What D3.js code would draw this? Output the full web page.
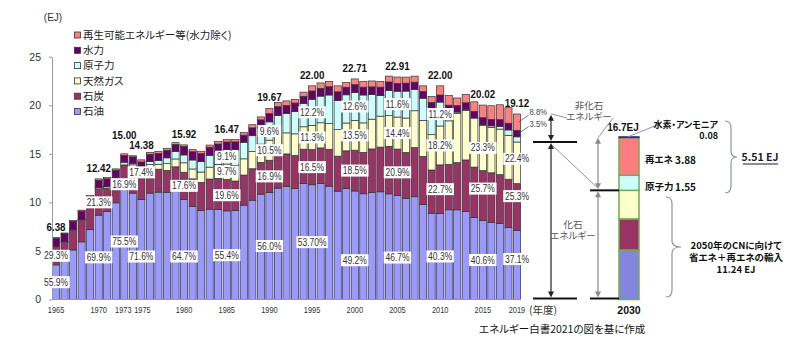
<!DOCTYPE html>
<html><head><meta charset="utf-8">
<script src="https://cdn.jsdelivr.net/npm/d3@7"></script>
<style>
body{margin:0;background:#fff;}
svg{display:block;}
.jp{font-feature-settings:"palt";}
</style>
</head><body>
<svg id="chart" width="802" height="356"></svg>
<script>
// ---------------- DATA ----------------
const years = [1965,1966,1967,1968,1969,1970,1971,1972,1973,1974,
  1975,1976,1977,1978,1979,1980,1981,1982,1983,1984,
  1985,1986,1987,1988,1989,1990,1991,1992,1993,1994,
  1995,1996,1997,1998,1999,2000,2001,2002,2003,2004,
  2005,2006,2007,2008,2009,2010,2011,2012,2013,2014,
  2015,2016,2017,2018,2019];
// total primary energy supply (EJ)
const totals = [6.38,6.85,8.15,9.2,10.7,12.42,12.55,13.45,15.00,14.8,
  14.38,15.15,15.25,15.55,16.15,15.92,15.43,15.26,15.9,16.29,
  16.47,16.46,17.2,18.0,18.8,19.67,20.3,20.45,20.6,21.35,
  22.00,22.3,22.45,22.0,22.35,22.71,22.45,22.5,22.45,23.0,
  22.91,22.9,23.0,22.0,20.9,22.00,21.0,20.75,21.1,20.35,
  20.02,19.95,20.05,19.75,19.12];
// shares (%)
const oilShare = [55.9,59.0,62.6,64.5,67.2,69.9,72.3,74.0,75.5,74.0,
  71.6,72.3,72.5,71.0,70.6,64.7,62.0,60.0,58.5,57.0,
  55.4,55.7,56.5,56.8,57.7,56.0,56.5,57.0,55.5,56.0,
  53.7,53.5,52.0,50.7,51.2,49.2,48.5,48.9,49.4,47.3,
  46.7,45.5,46.0,44.5,42.5,40.3,44.0,44.5,43.0,41.5,
  40.6,39.7,39.0,37.6,37.1];
const coalShare = [29.3,27.0,25.0,24.0,22.6,21.3,18.8,17.2,16.9,17.8,
  17.4,16.5,15.5,14.5,14.0,17.6,18.5,19.0,19.5,19.6,
  19.6,18.4,18.0,18.0,17.4,16.9,16.5,16.3,16.5,16.5,
  16.5,16.5,16.9,16.4,17.3,18.5,19.0,20.0,20.5,21.3,
  20.9,20.6,22.0,22.5,21.3,22.7,22.3,23.4,25.1,25.5,
  25.7,25.7,25.1,25.1,25.3];
const gasShare = [1.2,1.2,1.1,1.1,1.1,1.2,1.3,1.4,1.5,1.9,
  2.5,2.9,3.3,4.5,5.0,6.1,6.6,7.0,7.7,8.8,
  9.7,9.8,9.7,9.8,10.0,10.5,10.7,10.6,10.8,10.8,
  11.3,11.6,11.8,12.4,12.8,13.5,13.5,13.6,14.2,13.7,
  14.4,15.5,16.5,16.8,17.4,18.2,21.3,24.5,24.2,24.8,
  23.3,23.4,23.4,22.9,22.4];
const nuclearShare = [0.0,0.1,0.1,0.2,0.2,0.3,0.6,0.7,0.6,1.0,
  1.5,2.0,2.5,3.8,4.8,5.1,6.0,7.0,7.6,8.0,
  9.1,9.9,9.9,9.1,8.9,9.6,9.6,9.8,11.2,11.2,
  12.2,12.3,13.1,13.7,13.0,12.6,12.8,11.3,9.4,11.3,
  11.6,12.1,9.6,10.4,12.5,11.2,4.2,0.6,0.4,0.0,
  0.4,0.8,1.4,2.8,2.8];
const hydroShare = [12.3,11.4,9.9,9.0,7.8,6.2,6.0,5.7,4.4,4.5,
  5.5,5.0,4.8,5.0,4.5,5.4,5.5,5.4,5.3,4.9,
  4.7,4.8,4.3,4.5,4.4,4.3,4.5,4.0,4.2,3.5,
  3.9,3.6,3.8,4.0,3.5,3.6,3.6,3.5,3.9,3.8,
  3.5,3.6,3.2,3.2,3.4,3.3,3.5,3.2,3.3,3.4,
  3.5,3.4,3.5,3.5,3.5];
const renewShare = [1.3,1.3,1.3,1.2,1.1,1.1,1.0,1.0,1.1,0.8,
  1.5,1.3,1.4,1.2,1.1,1.1,1.4,1.6,1.4,1.7,
  1.5,1.4,1.6,1.8,1.6,2.7,2.2,2.3,1.8,2.0,
  2.4,2.5,2.4,2.8,2.2,2.6,2.6,2.7,2.6,2.6,
  2.9,2.7,2.7,2.6,2.9,4.3,4.7,3.8,4.0,4.8,
  6.5,7.0,7.6,8.1,8.8];

const seriesKeys  = ["oil","coal","gas","nuclear","hydro","renew"];
const seriesNames = ["石油","石炭","天然ガス","原子力","水力","再生可能エネルギー等(水力除く)"];
const seriesColors = ["#9999FF","#993366","#FFFFCC","#CCFFFF","#660066","#FF8080"];

const tickYears = [1965,1970,1973,1975,1980,1985,1990,1995,2000,2005,2010,2015,2019];
const yTicks = [0,5,10,15,20,25];

const totalLabelYears = [1965,1970,1973,1975,1980,1985,1990,1995,2000,2005,2010,2015,2019];
const oilLabelText  = ["55.9%","69.9%","75.5%","71.6%","64.7%","55.4%","56.0%","53.70%","49.2%","46.7%","40.3%","40.6%","37.1%"];
const coalLabelText = ["29.3%","21.3%","16.9%","17.4%","17.6%","19.6%","16.9%","16.5%","18.5%","20.9%","22.7%","25.7%","25.3%"];
const gasLabelYears = [1985,1990,1995,2000,2005,2010,2015,2019];
const gasLabelText  = ["9.7%","10.5%","11.3%","13.5%","14.4%","18.2%","23.3%","22.4%"];
const nucLabelYears = [1985,1990,1995,2000,2005,2010];
const nucLabelText  = ["9.1%","9.6%","12.2%","12.6%","11.6%","11.2%"];
const lastYearSideLabels = [["renew","8.8%"],["hydro","3.5%"]];

// 2030 target bar
const series2030 = ["石油","石炭","天然ガス","原子力","再エネ","水素・アンモニア"];
const values2030 = [5.1,3.2,2.94,1.55,3.88,0.08];
const colors2030 = ["#8585E0","#993366","#FFFFCC","#CCFFFF","#FF7C80","#333380"];

// ---------------- LAYOUT TWEAKS (label placement only) ----------------
const labelNudge = {"oil-1975":7,"oil-1980":7,"oil-2000":15,"oil-2005":10,"oil-2019":-6,"oil-1973":-3,
  "coal-1973":7,"coal-1975":-15,"coal-2015":-7,"coal-2019":-11,"gas-2019":-4};
const totalNudge = {1973:-8,1975:-4};
const tickNudge = {1973:-1,1975:1};

// ---------------- CHART ----------------
const svg = d3.select("#chart");
const FS = "'Liberation Sans',Arial,sans-serif";
const FJ = "'Noto Sans CJK JP','Noto Sans JP',sans-serif";
function condense(sel,f){
  sel.each(function(){
    const L = this.getComputedTextLength();
    d3.select(this).attr("textLength",L*f).attr("lengthAdjust","spacingAndGlyphs");
  });
  return sel;
}

const x = d3.scaleBand().domain(years).range([52,521]).paddingInner(0.16).paddingOuter(0.05);
const y = d3.scaleLinear().domain([0,25]).range([299.5,56.7]);

const shareArrays = [oilShare,coalShare,gasShare,nuclearShare,hydroShare,renewShare];
const rows = years.map((yr,i)=>{
  const r = {year:yr};
  seriesKeys.forEach((k,j)=>{ r[k] = totals[i]*shareArrays[j][i]/100; });
  return r;
});
const stacked = d3.stack().keys(seriesKeys)(rows);
const byKey = {}; stacked.forEach(s=>byKey[s.key]=s);
const idx = yr => years.indexOf(yr);

// bars
const gBars = svg.append("g");
stacked.forEach((layer,j)=>{
  gBars.selectAll(null).data(layer).join("rect")
    .attr("x",d=>x(d.data.year))
    .attr("width",x.bandwidth())
    .attr("y",d=>y(d[1]))
    .attr("height",d=>Math.max(0,y(d[0])-y(d[1])))
    .attr("fill",seriesColors[j])
    .attr("stroke","#333")
    .attr("stroke-width",0.7);
});

// y axis
const yAxis = d3.axisLeft(y).tickValues(yTicks).tickSize(3).tickSizeOuter(0).tickPadding(8);
const gy = svg.append("g").attr("transform","translate(52,0)").call(yAxis);
gy.select(".domain").attr("stroke","#999");
gy.selectAll(".tick line").attr("stroke","#999");
gy.selectAll("text").attr("font-family",FS).attr("font-size",10.5).attr("fill","#333");

// x axis
const xAxis = d3.axisBottom(x).tickValues(tickYears).tickSize(0).tickPadding(7);
const gx = svg.append("g").attr("transform","translate(0,299.5)").call(xAxis);
gx.select(".domain").attr("stroke","#999").attr("d","M52,0H521");
gx.selectAll(".tick text").attr("x",d=>tickNudge[d]||0);
condense(gx.selectAll("text").attr("font-family",FS).attr("font-size",9.5).attr("fill","#333"),0.78);
svg.append("text").attr("class","jp").attr("x",529).attr("y",314)
  .attr("font-family",FJ).attr("font-size",10.5).attr("fill","#333").text("(年度)");

svg.append("text").attr("x",53).attr("y",21).attr("text-anchor","middle")
  .attr("font-family",FS).attr("font-size",10).attr("fill","#333").text("(EJ)");

// legend
const legOrder = [5,4,3,2,1,0];
const gLeg = svg.append("g");
legOrder.forEach((j,k)=>{
  const cy = 35 + k*15.3;
  gLeg.append("rect").attr("x",74.5).attr("y",cy-3).attr("width",6).attr("height",6)
    .attr("fill",seriesColors[j]).attr("stroke","#333").attr("stroke-width",0.8);
  gLeg.append("text").attr("class","jp").attr("x",83).attr("y",cy).attr("dy","0.35em")
    .attr("font-family",FJ).attr("font-size",10.5).attr("fill","#222").text(seriesNames[j]);
});

// percent labels (white boxes)
const gLab = svg.append("g");
function boxLabel(cx, cy, txt){
  const g = gLab.append("g");
  const t = g.append("text").attr("x",cx).attr("y",cy).attr("dy","0.35em")
    .attr("text-anchor","middle").attr("font-family",FS).attr("font-size",10)
    .attr("fill","#333").text(txt);
  condense(t,0.85);
  const w = t.node().getComputedTextLength()*0.85+7;
  g.insert("rect","text").attr("x",cx-w/2).attr("y",cy-6).attr("width",w).attr("height",12).attr("fill","#fff");
}
function segMid(key, yr){
  const d = byKey[key][idx(yr)];
  return (y(d[0])+y(d[1]))/2 + (labelNudge[key+"-"+yr]||0);
}
const cxOf = yr => x(yr)+x.bandwidth()/2;
totalLabelYears.forEach((yr,i)=>{
  boxLabel(cxOf(yr), segMid("oil",yr), oilLabelText[i]);
  boxLabel(cxOf(yr), segMid("coal",yr), coalLabelText[i]);
});
gasLabelYears.forEach((yr,i)=>boxLabel(cxOf(yr), segMid("gas",yr), gasLabelText[i]));
nucLabelYears.forEach((yr,i)=>boxLabel(cxOf(yr), segMid("nuclear",yr), nucLabelText[i]));

// totals
totalLabelYears.forEach(yr=>{
  const t = svg.append("text").attr("x",cxOf(yr)).attr("y",y(totals[idx(yr)])-7+(totalNudge[yr]||0))
    .attr("text-anchor","middle").attr("font-family",FS).attr("font-weight","bold")
    .attr("font-size",11.5).attr("fill","#111").text(d3.format(".2f")(totals[idx(yr)]));
  condense(t,0.85);
});

// 2019 side labels
const lastYr = years[years.length-1];
lastYearSideLabels.forEach(([key,txt])=>{
  const my = segMid(key,lastYr);
  const bx = x(lastYr)+x.bandwidth();
  svg.append("line").attr("x1",bx-2).attr("y1",my).attr("x2",bx+8).attr("y2",my-7)
    .attr("stroke","#555").attr("stroke-width",0.8);
  condense(svg.append("text").attr("x",bx+9).attr("y",my-10).attr("dy","0.35em")
    .attr("font-family",FS).attr("font-size",9).attr("fill","#444").text(txt),0.85);
});

// ---------------- 2030 comparison ----------------
const total2019 = totals[totals.length-1];
const fossil2019 = byKey.gas[byKey.gas.length-1][1];
const fossil2030 = values2030[0]+values2030[1]+values2030[2];
const total2030 = d3.sum(values2030);
const bar2030X = 619, bar2030W = 20;
let acc = 0;
const g30 = svg.append("g");
values2030.forEach((v,i)=>{
  g30.append("rect").attr("x",bar2030X).attr("width",bar2030W)
    .attr("y",y(acc+v)).attr("height",y(acc)-y(acc+v))
    .attr("fill",colors2030[i]).attr("stroke",i===5?"#333380":"#6fae4c").attr("stroke-width",i===5?1.2:1.5);
  acc += v;
});
svg.append("text").attr("x",bar2030X+bar2030W/2).attr("y",314).attr("text-anchor","middle")
  .attr("font-family",FS).attr("font-weight","bold").attr("font-size",10.5).attr("fill","#111").text("2030");
svg.append("text").attr("x",bar2030X+4).attr("y",y(total2030)-6).attr("text-anchor","middle")
  .attr("font-family",FS).attr("font-weight","bold").attr("font-size",10).attr("fill","#111").text("16.7EJ");

// horizontal level lines
function hline(x1,x2,yy){ svg.append("line").attr("x1",x1).attr("x2",x2).attr("y1",yy).attr("y2",yy).attr("stroke","#111").attr("stroke-width",2); }
hline(533,577,y(fossil2019)); hline(533,577,y(0)-1);
hline(590,619,y(fossil2030)); hline(590,619,y(0)-1);

function arrow(xx,y1,y2,col){
  svg.append("line").attr("x1",xx).attr("x2",xx).attr("y1",y1+3).attr("y2",y2-3).attr("stroke",col).attr("stroke-width",1.2);
  svg.append("path").attr("d",`M${xx},${y1}l-3,6h6z`).attr("fill",col);
  svg.append("path").attr("d",`M${xx},${y2}l-3,-6h6z`).attr("fill",col);
}
arrow(551, y(total2019)+1, y(fossil2019)-1, "#222");
arrow(551, y(fossil2019)+1, y(0)-2, "#222");
arrow(598, y(total2030)+1, y(fossil2030)-1, "#8a8a8a");
arrow(598, y(fossil2030)+1, y(0)-2, "#8a8a8a");

const guide = "#8a97aa";
function gl(x1,y1,x2,y2){ svg.append("line").attr("x1",x1).attr("y1",y1).attr("x2",x2).attr("y2",y2).attr("stroke",guide).attr("stroke-width",1); }
gl(551,y(total2019),567,118);
gl(613,118,598,y(total2030)+1);
gl(552,y(fossil2019)+3,597,y(fossil2030)-3);
gl(628,y(total2030),657,125);

function jtxt(xx,yy,t,opt={}){
  return svg.append("text").attr("class","jp").attr("x",xx).attr("y",yy).attr("dy","0.35em")
    .attr("text-anchor",opt.anchor||"middle").attr("font-family",FJ)
    .attr("font-size",opt.size||10.5).attr("font-weight",opt.bold?"bold":"normal")
    .attr("fill",opt.fill||"#555").text(t);
}
// multi-line text block (one text element, tspans)
function jblock(xx,yy,lines,lh,opt={}){
  const t = svg.append("text").attr("class","jp").attr("x",xx).attr("y",yy)
    .attr("text-anchor",opt.anchor||"middle").attr("font-family",FJ)
    .attr("font-size",opt.size||10.5).attr("font-weight",opt.bold?"bold":"normal")
    .attr("fill",opt.fill||"#555");
  lines.forEach((ln,i)=>{
    t.append("tspan").attr("x",xx).attr("dy",i===0?"0.35em":lh).text(ln);
  });
  return t;
}
jblock(589,105.5,["非化石","エネルギー"],11.5,{size:9.5});
jblock(573,224.5,["化石","エネルギー"],11.5,{size:9.5});
jblock(718,124.5,["水素・アンモニア","0.08"],11.5,{anchor:"end",size:9,bold:true,fill:"#111"});

jtxt(645,160,"再エネ",{anchor:"start",size:9.5,bold:true,fill:"#111"});
jtxt(675,160,"3.88",{anchor:"start",size:10,bold:true,fill:"#111"});
jtxt(645,187,"原子力",{anchor:"start",size:9.5,bold:true,fill:"#111"});
jtxt(675,187,"1.55",{anchor:"start",size:10,bold:true,fill:"#111"});

function brace(xa,ytop,ybot,tip){
  const xm = xa+6, ym=(ytop+ybot)/2;
  svg.append("path").attr("d",
    `M${xa},${ytop} Q${xm},${ytop} ${xm},${ytop+7} L${xm},${ym-6} Q${xm},${ym} ${tip},${ym} Q${xm},${ym} ${xm},${ym+6} L${xm},${ybot-7} Q${xm},${ybot} ${xa},${ybot}`)
    .attr("fill","none").attr("stroke",guide).attr("stroke-width",1.2);
}
brace(725,121,193,737);
brace(666,197,297,681);

jtxt(760,157,"5.51 EJ",{size:10.5,bold:true,fill:"#1a1a2e"});
svg.append("line").attr("x1",743).attr("x2",778).attr("y1",164).attr("y2",164).attr("stroke","#1a1a2e").attr("stroke-width",1);
jblock(736,245.5,["2050年のCNに向けて","省エネ＋再エネの輸入","11.24 EJ"],12,{size:9.5,bold:true,fill:"#111"});

jtxt(479,329,"エネルギー白書2021の図を基に作成",{anchor:"start",size:10.5,fill:"#111"});
</script>
</body></html>
